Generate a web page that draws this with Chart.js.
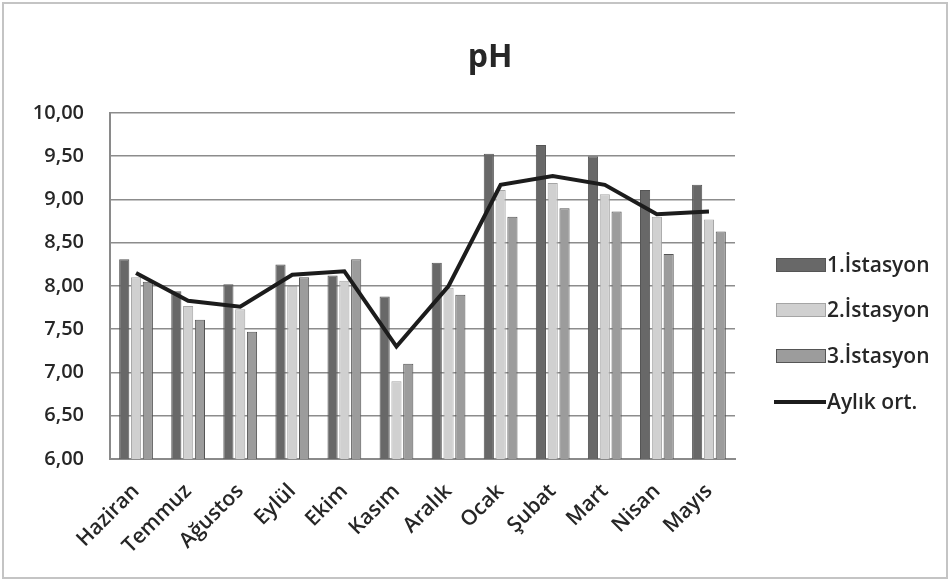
<!DOCTYPE html>
<html>
<head>
<meta charset="utf-8">
<script src="https://cdn.jsdelivr.net/npm/chart.js@4/dist/chart.umd.min.js"></script>
<style>
  html, body { margin: 0; padding: 0; background: #fff; }
  #wrap { width: 950px; height: 581px; position: relative; }
</style>
</head>
<body>
<div id="wrap"><canvas id="c" width="950" height="581"></canvas></div>
<script>
// Monthly pH readings per station and the monthly mean
const months = ['Haziran', 'Temmuz', 'Ağustos', 'Eylül', 'Ekim', 'Kasım', 'Aralık', 'Ocak', 'Şubat', 'Mart', 'Nisan', 'Mayıs'];
const station1 = [8.31, 7.94, 8.02, 8.25, 8.12, 7.88, 8.27, 9.53, 9.63, 9.50, 9.11, 9.17];
const station2 = [8.10, 7.77, 7.73, 8.00, 8.06, 6.90, 7.98, 9.11, 9.19, 9.06, 8.80, 8.77];
const station3 = [8.05, 7.61, 7.47, 8.10, 8.31, 7.10, 7.90, 8.80, 8.90, 8.86, 8.37, 8.63];
const monthlyMean = [8.15, 7.83, 7.76, 8.13, 8.17, 7.30, 8.00, 9.17, 9.27, 9.17, 8.83, 8.86];
const yTickLabels = ['6,00', '6,50', '7,00', '7,50', '8,00', '8,50', '9,00', '9,50', '10,00'];
const seriesNames = ['1.İstasyon', '2.İstasyon', '3.İstasyon', 'Aylık ort.'];

const FONT = '"Open Sans", "Liberation Sans", sans-serif';
const TEXT = '#262626';
const colors = ['#686868', '#d0d0d0', '#9c9c9c', '#1c1c1c'];

// Frame, title and right-hand legend
const decor = {
  id: 'decor',
  beforeDraw(chart) {
    const ctx = chart.ctx;
    ctx.save();
    ctx.fillStyle = '#fff';
    ctx.fillRect(0, 0, chart.width, chart.height);
    ctx.strokeStyle = '#c4c4c4';
    ctx.lineWidth = 2;
    ctx.strokeRect(3, 3, chart.width - 6, chart.height - 6);
    ctx.restore();
  },
  afterDraw(chart) {
    const ctx = chart.ctx;
    ctx.save();
    ctx.fillStyle = TEXT;
    ctx.font = 'bold 32px ' + FONT;
    ctx.textAlign = 'center';
    ctx.textBaseline = 'middle';
    ctx.fillText('pH', 490, 58);

    const ys = [265, 310, 356, 402];
    ctx.font = '600 21px ' + FONT;
    ctx.textAlign = 'left';
    for (let i = 0; i < 4; i++) {
      const y = ys[i];
      if (i < 3) {
        ctx.fillStyle = colors[i];
        ctx.fillRect(776, y - 7, 50, 14);
        ctx.strokeStyle = i === 1 ? '#a5a5a5' : '#555';
        ctx.lineWidth = 1;
        ctx.strokeRect(776.5, y - 6.5, 49, 13);
      } else {
        ctx.strokeStyle = colors[3];
        ctx.lineWidth = 4;
        ctx.beginPath();
        ctx.moveTo(774, y);
        ctx.lineTo(826, y);
        ctx.stroke();
      }
      ctx.fillStyle = TEXT;
      ctx.fillText(seriesNames[i], 827, y + 1);
    }
    ctx.restore();
  }
};

const barStyle = (i) => ({
  backgroundColor: colors[i],
  borderColor: '#555',
  borderWidth: { left: 1, right: 1, top: 1, bottom: 0 },
  categoryPercentage: 0.68,
  barPercentage: 0.86,
  order: 1
});

new Chart(document.getElementById('c'), {
  type: 'bar',
  data: {
    labels: months,
    datasets: [
      Object.assign({ label: seriesNames[0], data: station1 }, barStyle(0)),
      Object.assign({ label: seriesNames[1], data: station2 }, barStyle(1), { borderColor: '#a5a5a5' }),
      Object.assign({ label: seriesNames[2], data: station3 }, barStyle(2)),
      {
        type: 'line',
        label: seriesNames[3],
        data: monthlyMean,
        borderColor: colors[3],
        borderWidth: 4,
        pointRadius: 0,
        tension: 0,
        fill: false,
        order: 0
      }
    ]
  },
  options: {
    responsive: false,
    animation: false,
    layout: { padding: { left: 0, right: 215, top: 113, bottom: 0 } },
    plugins: {
      legend: { display: false },
      title: { display: false },
      tooltip: { enabled: false }
    },
    scales: {
      x: {
        grid: { display: false, drawTicks: false },
        border: { display: true, color: '#8a8a8a', width: 2 },
        ticks: {
          color: TEXT,
          font: { family: FONT, size: 21, weight: '600' },
          minRotation: 45,
          maxRotation: 45,
          padding: 20,
          autoSkip: false
        },
        afterFit(scale) { scale.height = 122; }
      },
      y: {
        min: 6,
        max: 10,
        grid: { color: '#8c8c8c', lineWidth: 1.6, drawTicks: false },
        border: { display: true, color: '#8a8a8a', width: 2 },
        ticks: {
          stepSize: 0.5,
          color: TEXT,
          font: { family: FONT, size: 20, weight: '600' },
          padding: 26,
          callback(value) {
            const idx = Math.round((value - 6) / 0.5);
            return yTickLabels[idx];
          }
        },
        afterFit(scale) { scale.width = 110; }
      }
    }
  },
  plugins: [decor]
});
</script>
</body>
</html>
